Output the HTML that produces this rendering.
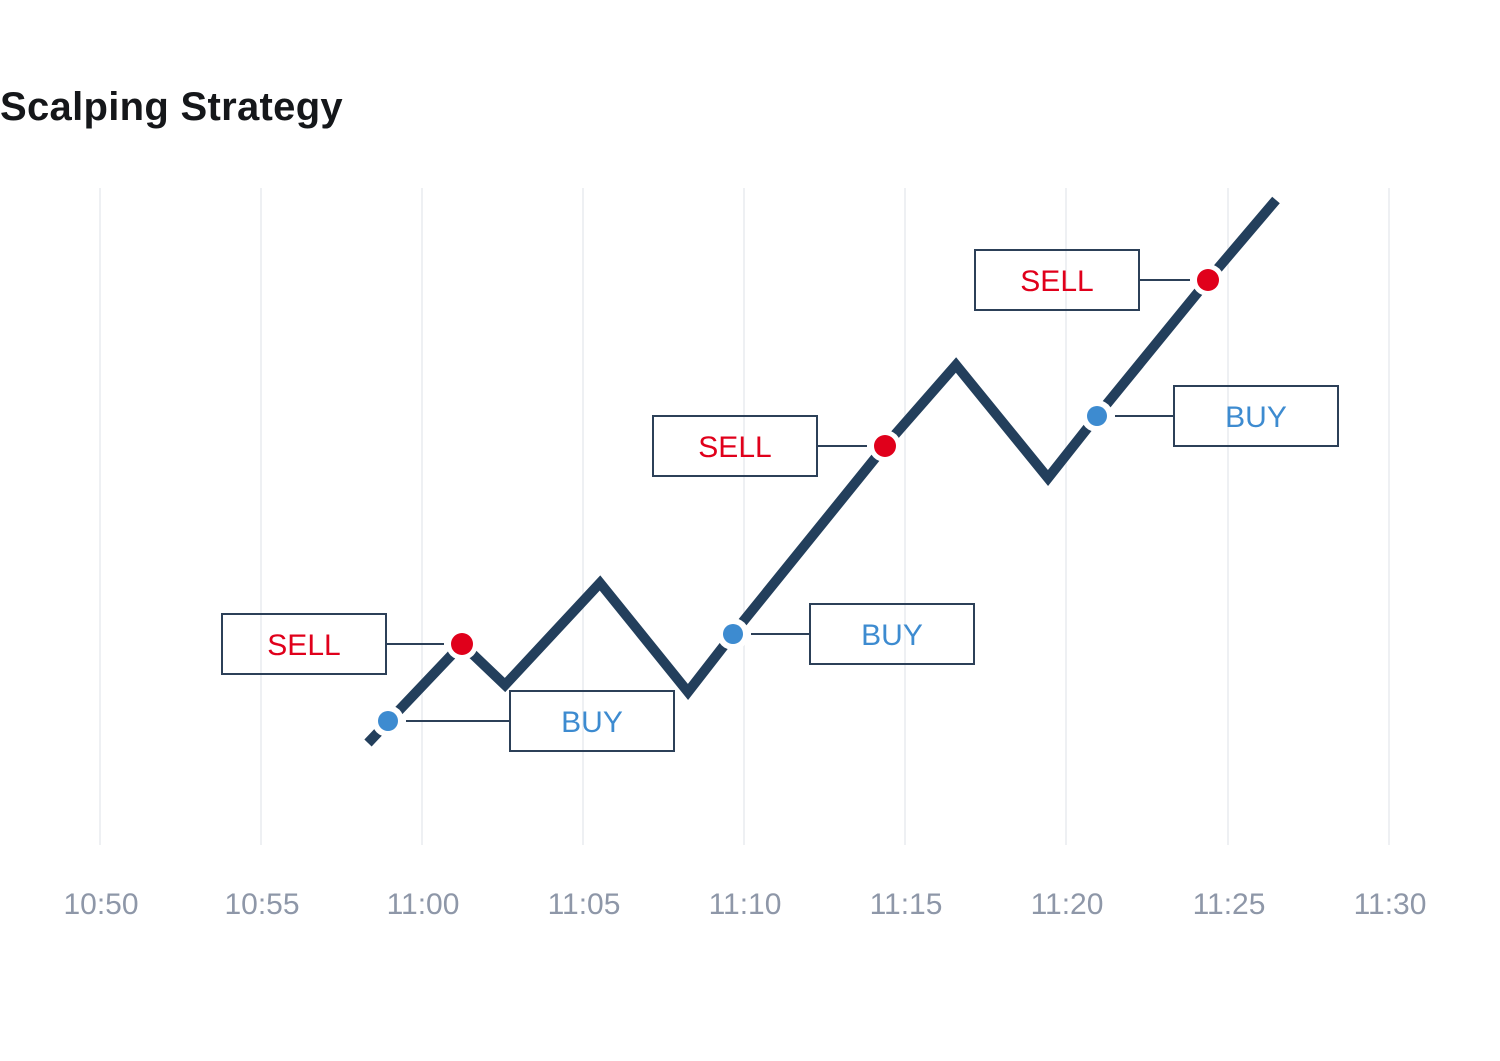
<!DOCTYPE html>
<html><head><meta charset="utf-8"><style>
html,body{margin:0;padding:0;background:#fff;width:1500px;height:1061px;overflow:hidden}
</style></head><body>
<svg width="1500" height="1061" viewBox="0 0 1500 1061" xmlns="http://www.w3.org/2000/svg">
<rect width="1500" height="1061" fill="#fff"/>
<text x="0" y="120" font-family="Liberation Sans, sans-serif" font-weight="bold" font-size="40" letter-spacing="0.3" fill="#15171a">Scalping Strategy</text>
<g stroke="#eef0f3" stroke-width="2">
<line x1="100" y1="188" x2="100" y2="845"/><line x1="261" y1="188" x2="261" y2="845"/>
<line x1="422" y1="188" x2="422" y2="845"/><line x1="583" y1="188" x2="583" y2="845"/>
<line x1="744" y1="188" x2="744" y2="845"/><line x1="905" y1="188" x2="905" y2="845"/>
<line x1="1066" y1="188" x2="1066" y2="845"/><line x1="1228" y1="188" x2="1228" y2="845"/>
<line x1="1389" y1="188" x2="1389" y2="845"/>
</g>
<g font-family="Liberation Sans, sans-serif" font-size="30" fill="#8e97a8" text-anchor="middle">
<text x="101" y="914">10:50</text><text x="262" y="914">10:55</text><text x="423" y="914">11:00</text>
<text x="584" y="914">11:05</text><text x="745" y="914">11:10</text><text x="906" y="914">11:15</text>
<text x="1067" y="914">11:20</text><text x="1229" y="914">11:25</text><text x="1390" y="914">11:30</text>
</g>
<polyline points="368,743 462,644 505,685 600,583 688,692 733,634 885,446 956,365 1048,478 1097,416 1208,280 1276,200" fill="none" stroke="#233f5c" stroke-width="10" stroke-linejoin="miter"/>
<g fill="#fff">
<circle cx="388" cy="721" r="16"/><circle cx="462" cy="644" r="16"/><circle cx="733" cy="634" r="16"/>
<circle cx="885" cy="446" r="16"/><circle cx="1097" cy="416" r="16"/><circle cx="1208" cy="280" r="16"/>
</g>
<g stroke="#2c4058" stroke-width="2" fill="none">
<line x1="386" y1="644" x2="444" y2="644"/><line x1="406" y1="721" x2="510" y2="721"/>
<line x1="751" y1="634" x2="810" y2="634"/><line x1="817" y1="446" x2="867" y2="446"/>
<line x1="1139" y1="280" x2="1190" y2="280"/><line x1="1115" y1="416" x2="1174" y2="416"/>
<rect x="222" y="614" width="164" height="60"/><rect x="510" y="691" width="164" height="60"/>
<rect x="810" y="604" width="164" height="60"/><rect x="653" y="416" width="164" height="60"/>
<rect x="975" y="250" width="164" height="60"/><rect x="1174" y="386" width="164" height="60"/>
</g>
<circle cx="388" cy="721" r="10" fill="#3d8bd0"/><circle cx="733" cy="634" r="10" fill="#3d8bd0"/><circle cx="1097" cy="416" r="10" fill="#3d8bd0"/>
<circle cx="462" cy="644" r="11" fill="#e0001b"/><circle cx="885" cy="446" r="11" fill="#e0001b"/><circle cx="1208" cy="280" r="11" fill="#e0001b"/>
<g font-family="Liberation Sans, sans-serif" font-size="30" text-anchor="middle">
<text x="304" y="655" fill="#e0001b">SELL</text><text x="735" y="457" fill="#e0001b">SELL</text><text x="1057" y="291" fill="#e0001b">SELL</text>
<text x="592" y="732" fill="#3d8bd0">BUY</text><text x="892" y="645" fill="#3d8bd0">BUY</text><text x="1256" y="427" fill="#3d8bd0">BUY</text>
</g>
</svg>
</body></html>
